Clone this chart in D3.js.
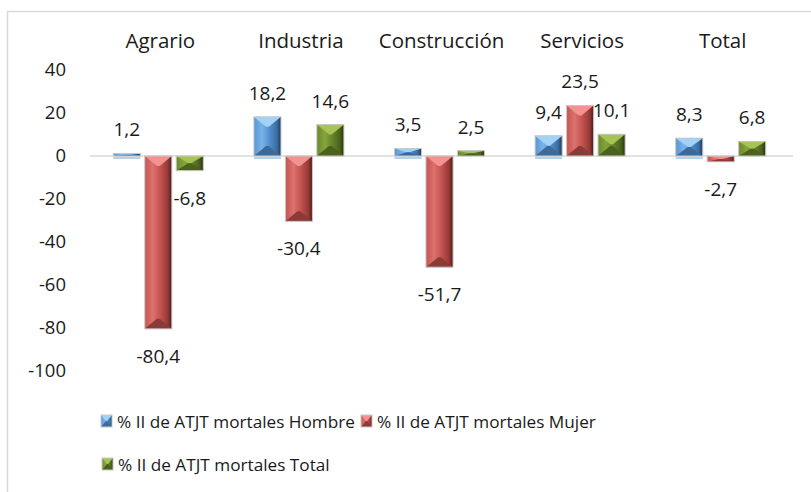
<!DOCTYPE html>
<html>
<head>
<meta charset="utf-8">
<script src="https://cdn.jsdelivr.net/npm/d3@7"></script>
<style>
  html, body { margin: 0; padding: 0; background: #fff; }
  svg text { font-family: "Open Sans", sans-serif; fill: #1a1a1a; }
</style>
</head>
<body>
<div id="chart"></div>
<script>
const categories = ['Agrario', 'Industria', 'Construcción', 'Servicios', 'Total'];
const seriesNames = [
  '% II de ATJT mortales Hombre',
  '% II de ATJT mortales Mujer',
  '% II de ATJT mortales Total'
];
const hombre = [1.2, 18.2, 3.5, 9.4, 8.3];
const mujer = [-80.4, -30.4, -51.7, 23.5, -2.7];
const total = [-6.8, 14.6, 2.5, 10.1, 6.8];
const yTicks = [40, 20, 0, -20, -40, -60, -80, -100];

const values = [hombre, mujer, total];

// shades per series: body gradient stops, top face, bottom face
const palette = [
  { stops: ['#5a96d2', '#79b3ea', '#4f8ccb', '#3a6da3', '#1d3a5a'], top: '#a3d2f7', bottom: '#3d6a98' },
  { stops: ['#c45552', '#dc716d', '#c0504d', '#953a37', '#4e1b1a'], top: '#f39391', bottom: '#8a3a37' },
  { stops: ['#6a8a2b', '#83a53a', '#62802a', '#4a621d', '#26330c'], top: '#a6c456', bottom: '#4b611d' }
];

const W = 811, H = 492;
const svg = d3.select('#chart').append('svg')
  .attr('width', W)
  .attr('height', H);

const defs = svg.append('defs');
palette.forEach((c, s) => {
  const grad = defs.append('linearGradient')
    .attr('id', 'body' + s)
    .attr('x1', 0).attr('x2', 1).attr('y1', 0).attr('y2', 0);
  [0, 0.3, 0.6, 0.85, 1].forEach((o, k) => {
    grad.append('stop').attr('offset', o).attr('stop-color', c.stops[k]);
  });
});

// chart frame (extends past the picture)
svg.append('rect')
  .attr('x', 7.5).attr('y', 11.5)
  .attr('width', 900).attr('height', 600)
  .attr('fill', 'none')
  .attr('stroke', '#d9d9d9')
  .attr('stroke-width', 1.5);

const y = d3.scaleLinear().domain([-100, 40]).range([371, 70]);
const x0 = d3.scaleBand().domain(categories).range([90, 793]).padding(0);
const groupW = 90;
const gStart = (x0.bandwidth() - groupW) / 2 - 2;
const x1 = d3.scaleBand().domain(d3.range(3)).range([gStart, gStart + groupW]).paddingInner(0.14);

const fmt = v => d3.format('.1f')(v).replace('.', ',').replace('\u2212', '-');

// y axis labels
const yAxis = svg.append('g')
  .attr('transform', 'translate(66,0)')
  .call(d3.axisLeft(y).tickValues(yTicks).tickSize(0).tickPadding(0).tickFormat(d => String(d)));
yAxis.select('.domain').remove();
yAxis.selectAll('text')
  .attr('font-size', 18.5)
  .attr('font-family', '"Open Sans", sans-serif')
  .attr('fill', '#1a1a1a');

// category labels on top
svg.append('g').selectAll('text')
  .data(categories)
  .join('text')
  .attr('x', d => x0(d) + x0.bandwidth() / 2)
  .attr('y', 48)
  .attr('text-anchor', 'middle')
  .attr('font-size', 20.5)
  .text(d => d);

// zero line
svg.append('line')
  .attr('x1', 90).attr('x2', 793)
  .attr('y1', y(0)).attr('y2', y(0))
  .attr('stroke', '#d9d9d9')
  .attr('stroke-width', 1.5);

function bevelBar(g, bx, by, bw, bh, s) {
  const c = palette[s];
  const ix = bw * 0.45;
  const iy = Math.min(10, bh / 2);
  const pts = a => a.map(p => p.join(',')).join(' ');
  g.append('rect').attr('x', bx).attr('y', by).attr('width', bw).attr('height', bh)
    .attr('fill', `url(#body${s})`);
  g.append('polygon')
    .attr('points', pts([[bx, by], [bx + bw, by], [bx + bw - ix, by + iy], [bx + ix, by + iy]]))
    .attr('fill', c.top);
  g.append('polygon')
    .attr('points', pts([[bx, by + bh], [bx + bw, by + bh], [bx + bw - ix, by + bh - iy], [bx + ix, by + bh - iy]]))
    .attr('fill', c.bottom);
  g.append('rect').attr('x', bx).attr('y', by).attr('width', bw).attr('height', bh)
    .attr('fill', 'none').attr('stroke', '#c8c8c8').attr('stroke-width', 1);
}

const bars = svg.append('g');
const labels = svg.append('g');
values.forEach((vals, s) => {
  vals.forEach((v, i) => {
    const bx = x0(categories[i]) + x1(s);
    const bw = x1.bandwidth();
    const top = y(Math.max(0, v));
    const bh = Math.abs(y(v) - y(0));
    const g = bars.append('g');
    if (s === 0) {
      g.append('line')
        .attr('x1', bx).attr('x2', bx + bw)
        .attr('y1', y(0) + 2).attr('y2', y(0) + 2)
        .attr('stroke', '#9dc3e6').attr('stroke-width', 1.5);
    }
    bevelBar(g, bx, top, bw, bh, s);
    labels.append('text')
      .attr('x', bx + bw / 2)
      .attr('y', v >= 0 ? y(v) - 17 : y(v) + 34)
      .attr('text-anchor', 'middle')
      .attr('font-size', 19)
      .text(fmt(v));
  });
});

// legend
const legendItems = [
  { s: 0, x: 101, y: 421 },
  { s: 1, x: 361, y: 421 },
  { s: 2, x: 102, y: 464 }
];
const legend = svg.append('g');
legendItems.forEach(it => {
  const g = legend.append('g');
  bevelBar(g, it.x, it.y - 6, 11, 12, it.s);
  legend.append('text')
    .attr('x', it.x + 16)
    .attr('y', it.y + 7)
    .attr('font-size', 17.2)
    .text(seriesNames[it.s]);
});
</script>
</body>
</html>
